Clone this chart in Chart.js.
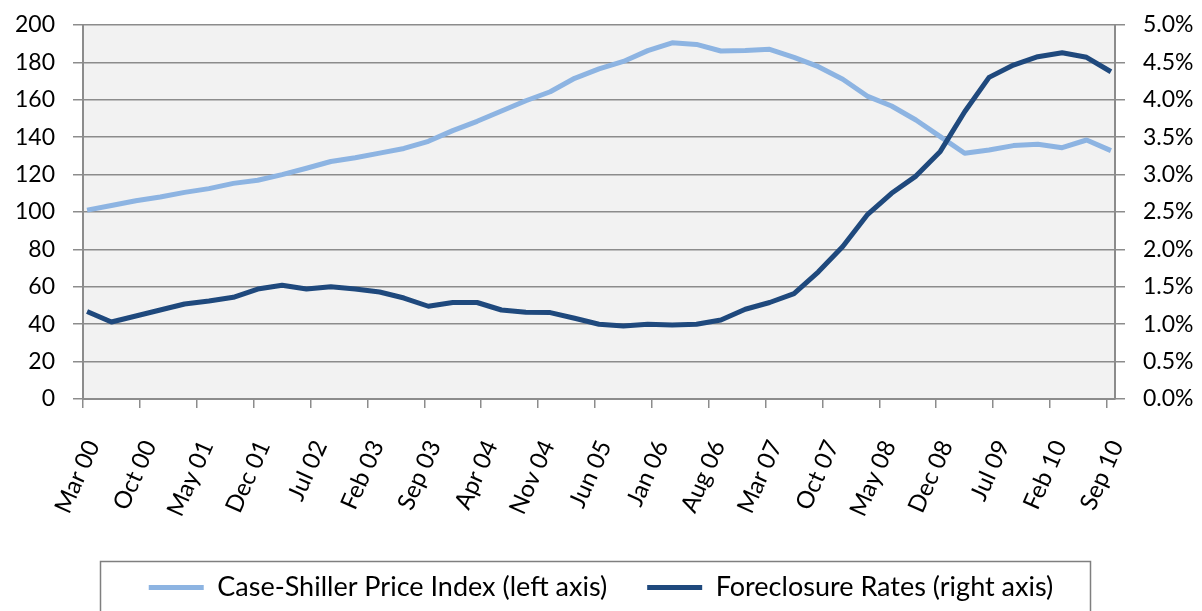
<!DOCTYPE html>
<html>
<head>
<meta charset="utf-8">
<script src="https://cdn.jsdelivr.net/npm/chart.js@4"></script>
<style>
  html, body { margin: 0; padding: 0; background: #fff; }
  #wrap { width: 1202px; height: 611px; }
</style>
</head>
<body>
<div id="wrap"><canvas id="chart"></canvas></div>
<script>
// quarterly observations
const quarters = [
  "Mar 00", "Jun 00", "Sep 00", "Dec 00",
  "Mar 01", "Jun 01", "Sep 01", "Dec 01",
  "Mar 02", "Jun 02", "Sep 02", "Dec 02",
  "Mar 03", "Jun 03", "Sep 03", "Dec 03",
  "Mar 04", "Jun 04", "Sep 04", "Dec 04",
  "Mar 05", "Jun 05", "Sep 05", "Dec 05",
  "Mar 06", "Jun 06", "Sep 06", "Dec 06",
  "Mar 07", "Jun 07", "Sep 07", "Dec 07",
  "Mar 08", "Jun 08", "Sep 08", "Dec 08",
  "Mar 09", "Jun 09", "Sep 09", "Dec 09",
  "Mar 10", "Jun 10", "Sep 10"
];

const caseShiller = [
  101, 103.5, 106, 108, 110.5, 112.5, 115.3, 117,
  120, 123.4, 127, 129, 131.5, 134, 137.8, 143.5,
  148.5, 154, 159.5, 164.3, 171.5, 176.5, 180.5, 186.3,
  190.5, 189.6, 186.1, 186.3, 187, 182.7, 177.7, 171,
  162, 156.7, 149.2, 140.3, 131.4, 133.2, 135.5, 136.2,
  134.4, 138.5, 132.8
];

// percent
const foreclosure = [
  1.17, 1.03, 1.11, 1.19, 1.27, 1.31, 1.36, 1.47,
  1.52, 1.47, 1.50, 1.47, 1.43, 1.35, 1.24, 1.29,
  1.29, 1.19, 1.16, 1.155, 1.08, 1.00, 0.976, 1.00,
  0.99, 1.00, 1.056, 1.20, 1.29, 1.41, 1.70, 2.04,
  2.46, 2.75, 2.98, 3.31, 3.84, 4.30, 4.465, 4.576,
  4.63, 4.568, 4.375
];

// date axis tick labels (every 7 months)
const tickLabels = [
  "Mar 00", "Oct 00", "May 01", "Dec 01", "Jul 02", "Feb 03", "Sep 03",
  "Apr 04", "Nov 04", "Jun 05", "Jan 06", "Aug 06", "Mar 07", "Oct 07",
  "May 08", "Dec 08", "Jul 09", "Feb 10", "Sep 10"
];

const leftTicks = [0, 20, 40, 60, 80, 100, 120, 140, 160, 180, 200];
const rightTicks = [0, 0.5, 1, 1.5, 2, 2.5, 3, 3.5, 4, 4.5, 5];

// --- date helpers: months since Mar 00 ---
const MONTHS = ["Jan", "Feb", "Mar", "Apr", "May", "Jun", "Jul", "Aug", "Sep", "Oct", "Nov", "Dec"];
function monthIndex(label) {
  const [m, y] = label.split(" ");
  return (parseInt(y, 10)) * 12 + MONTHS.indexOf(m) - 2;
}
const tickValues = tickLabels.map(monthIndex);
const axisEnd = monthIndex("Oct 10");

// points sit mid-month on the date axis
const toPoints = (vals) => vals.map((v, i) => ({ x: monthIndex(quarters[i]) + 0.5, y: v }));

const LIGHT = "#8DB4E2";
const DARK = "#1F497D";
const GRID = "#8c8c8c";
const FONT = "Lato, 'Noto Sans', sans-serif";

// y scales would otherwise reserve label height + padding above the plot
function fixYScale(width) {
  return (scale) => {
    scale.width = width;
    scale.paddingTop = 0;
    scale.paddingBottom = 0;
  };
}

const plotBackground = {
  id: "plotBackground",
  beforeDraw(chart) {
    const { ctx, chartArea: a } = chart;
    ctx.save();
    ctx.fillStyle = "#F2F2F2";
    ctx.fillRect(a.left, a.top, a.right - a.left, a.bottom - a.top);
    ctx.restore();
  },
  afterDraw(chart) {
    // frame round the legend
    const { ctx } = chart;
    ctx.save();
    ctx.strokeStyle = "#7f7f7f";
    ctx.lineWidth = 1.5;
    ctx.strokeRect(100.5, 561.5, 990, 80);
    ctx.restore();
  }
};

new Chart(document.getElementById("chart"), {
  type: "line",
  data: {
    datasets: [
      {
        label: "Case-Shiller Price Index (left axis)",
        data: toPoints(caseShiller),
        borderColor: LIGHT,
        backgroundColor: LIGHT,
        borderWidth: 5,
        yAxisID: "y",
        order: 1,
      },
      {
        label: "Foreclosure Rates (right axis)",
        data: toPoints(foreclosure),
        borderColor: DARK,
        backgroundColor: DARK,
        borderWidth: 5,
        yAxisID: "y2",
        order: 0,
      },
    ],
  },
  options: {
    responsive: true,
    maintainAspectRatio: false,
    animation: false,
    layout: { autoPadding: false, padding: { top: 25, left: 0, right: 0, bottom: 0 } },
    elements: {
      point: { radius: 0 },
      line: { tension: 0, borderJoinStyle: "round", borderCapStyle: "butt" },
    },
    plugins: {
      tooltip: { enabled: false },
      legend: {
        position: "bottom",
        labels: {
          font: { family: FONT, size: 27 },
          color: "#000",
          boxWidth: 55,
          boxHeight: 5,
          padding: 40,
          sort: (a, b) => a.datasetIndex - b.datasetIndex,
          generateLabels(chart) {
            return chart.data.datasets.map((ds, i) => ({
              text: ds.label,
              fillStyle: ds.borderColor,
              strokeStyle: ds.borderColor,
              lineWidth: 0,
              datasetIndex: i,
              fontColor: "#000",
            }));
          },
        },
      },
    },
    scales: {
      x: {
        type: "linear",
        min: 0,
        max: axisEnd,
        afterBuildTicks: (scale) => { scale.ticks = tickValues.map((v) => ({ value: v })); },
        afterFit: (scale) => { scale.height = 135; },
        grid: { drawOnChartArea: false, drawTicks: true, tickLength: 9, color: GRID, lineWidth: 1.5 },
        border: { color: GRID, width: 2 },
        ticks: {
          autoSkip: false,
          minRotation: 66,
          maxRotation: 66,
          padding: 28,
          labelOffset: 10,
          color: "#000",
          font: { family: FONT, size: 24 },
          callback: (v) => tickLabels[tickValues.indexOf(v)],
        },
      },
      y: {
        position: "left",
        min: 0,
        max: 200,
        afterBuildTicks: (scale) => { scale.ticks = leftTicks.map((v) => ({ value: v })); },
        afterFit: fixYScale(83),
        grid: { color: GRID, lineWidth: 1.5, tickLength: 10 },
        border: { color: GRID, width: 2 },
        ticks: { padding: 18, color: "#000", font: { family: FONT, size: 23 } },
      },
      y2: {
        position: "right",
        min: 0,
        max: 5,
        afterBuildTicks: (scale) => { scale.ticks = rightTicks.map((v) => ({ value: v })); },
        afterFit: fixYScale(87),
        grid: { drawOnChartArea: false, color: GRID, lineWidth: 1.5, tickLength: 10 },
        border: { color: GRID, width: 2 },
        ticks: {
          padding: 18,
          color: "#000",
          font: { family: FONT, size: 23 },
          callback: (v) => v.toFixed(1) + "%",
        },
      },
    },
  },
  plugins: [plotBackground],
});
</script>
</body>
</html>
